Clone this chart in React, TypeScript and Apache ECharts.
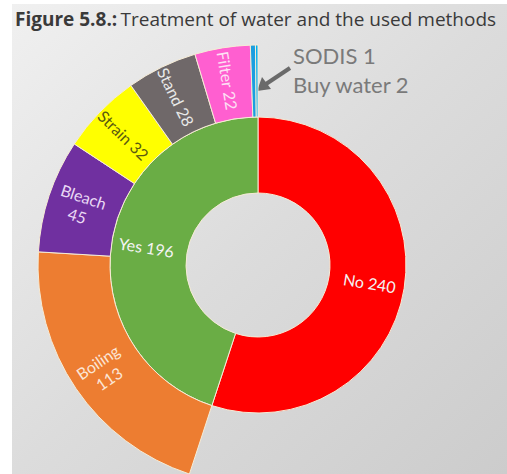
import React, { useEffect, useRef } from "react";
import * as echarts from "echarts";

const innerNames = ["No", "Yes"];
const innerValues = [240, 196];
const innerColors = ["#ff0000", "#6aad45"];

const outerNames = ["Boiling", "Bleach", "Strain", "Stand", "Filter", "Buy water", "SODIS"];
const outerValues = [113, 45, 32, 28, 22, 2, 1];
const outerColors = ["#ed7d31", "#7030a0", "#ffff00", "#6f6869", "#ff5fd0", "#1a9ee0", "#00b0f0"];
const outerLabelColors = ["#fbe5d6", "#ead9f5", "#5a5a10", "#e8e8e8", "#fde0f4", "#fff", "#fff"];
const twoLineLabels = ["Boiling", "Bleach"];
const calloutLines = ["SODIS 1", "Buy water 2"];

export default function App() {
  const ref = useRef<HTMLDivElement>(null);
  useEffect(() => {
    if (!ref.current) return;
    const chart = echarts.init(ref.current, undefined, { renderer: "svg" });
    const yesTotal = innerValues[1];
    const innerTotal = innerValues.reduce((a, b) => a + b, 0);
    const outerTotal = outerValues.reduce((a, b) => a + b, 0);
    const filler = outerTotal * (innerTotal / yesTotal - 1);
    const font = "Lato";
    const outerData: any[] = [
      {
        name: "filler",
        value: filler,
        itemStyle: { color: "transparent", borderWidth: 0 },
        label: { show: false },
        emphasis: { disabled: true },
      },
      ...outerNames.map((n, i) => ({
        name: n,
        value: outerValues[i],
        itemStyle: { color: outerColors[i] },
        label: {
          show: outerValues[i] > 5,
          color: outerLabelColors[i],
          formatter: twoLineLabels.includes(n) ? "{b}\n{c}" : "{b} {c}",
        },
      })),
    ];
    chart.setOption({
      animation: false,
      backgroundColor: "#ffffff",
      graphic: [
        {
          type: "rect",
          shape: { x: 12, y: 4, width: 495, height: 470 },
          style: {
            fill: new echarts.graphic.LinearGradient(0, 0, 1, 1, [
              { offset: 0, color: "#f0f0f0" },
              { offset: 0.5, color: "#dcdcdc" },
              { offset: 1, color: "#cccccc" },
            ]),
          },
          z: -10,
        },
        {
          type: "text",
          x: 15,
          y: 9,
          style: {
            text: "{b|Figure 5.8.:} {n|Treatment of water and the used methods}",
            rich: {
              b: { fontFamily: "Open Sans", fontWeight: "bold", fontSize: 19, fill: "#3a3a3a" },
              n: { fontFamily: "Open Sans", fontSize: 19, fill: "#3a3a3a" },
            },
          },
        },
        {
          type: "text",
          x: 293,
          y: 41,
          style: {
            text: calloutLines.join("\n"),
            fontFamily: font,
            fontSize: 22,
            lineHeight: 29,
            fill: "#7a7a7a",
          },
        },
        {
          type: "line",
          shape: { x1: 290, y1: 68, x2: 266, y2: 84 },
          style: { stroke: "#6a6a6a", lineWidth: 4 },
        },
        {
          type: "polygon",
          shape: { points: [[257, 91], [262, 77], [271, 89]] },
          style: { fill: "#6a6a6a" },
        },
      ],
      series: [
        {
          type: "pie",
          center: [258, 265],
          radius: [72, 148],
          startAngle: 90,
          clockwise: true,
          silent: true,
          itemStyle: { borderColor: "#f6ecd6", borderWidth: 1 },
          label: {
            show: true,
            position: "inside",
            rotate: "radial",
            fontFamily: font,
            fontSize: 16,
            color: "#f4f4f4",
            formatter: "{b} {c}",
          },
          labelLine: { show: false },
          data: innerNames.map((n, i) => ({
            name: n,
            value: innerValues[i],
            itemStyle: { color: innerColors[i] },
          })),
        },
        {
          type: "pie",
          center: [258, 265],
          radius: [148, 220],
          startAngle: 90,
          clockwise: true,
          silent: true,
          itemStyle: { borderColor: "#f6ecd6", borderWidth: 1 },
          label: {
            show: true,
            position: "inside",
            rotate: "radial",
            fontFamily: font,
            fontSize: 16,
            lineHeight: 20,
            align: "center",
          },
          labelLine: { show: false },
          data: outerData,
        },
      ],
    });
    return () => chart.dispose();
  }, []);
  return (
    <div
      ref={ref}
      style={{ position: "absolute", left: 0, top: 0, width: 507, height: 474 }}
    />
  );
}
